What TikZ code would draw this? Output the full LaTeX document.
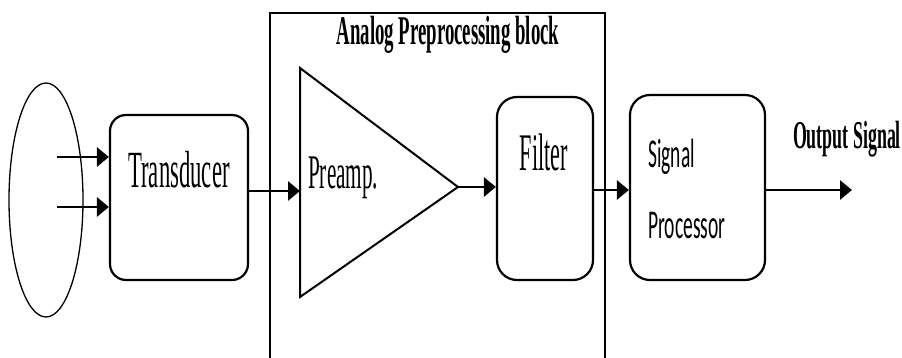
\documentclass[tikz,border=0pt]{standalone}
\usepackage{fontspec}
\usepackage{graphicx}
\usetikzlibrary{shapes.geometric,arrows.meta}
\newfontfamily\tmsfont{Liberation Serif}
\newfontfamily\calfont{Carlito}
% tall, narrow lettering
\newcommand\tallText[3]{\fontsize{#1}{#1}\selectfont\scalebox{1}[#2]{#3}}
\begin{document}
\begin{tikzpicture}[x=1pt,y=-1pt,
  block/.style={draw, line width=2.2pt, rounded corners=16pt, inner sep=0pt},
  arr/.style={line width=2.8pt, -{Triangle[length=12pt,width=19pt]}},
  lbl/.style={inner sep=0pt, anchor=base}]
\useasboundingbox (0,0) rectangle (902,358);

% source
\node[ellipse, draw, line width=1.3pt, minimum width=74pt, minimum height=234pt] (src) at (46,200) {};

% analog preprocessing frame
\draw[line width=1.4pt] (270,360) -- (270,13);
\draw[line width=1.4pt] (605,13) -- (605,360);
\draw[line width=2.8pt] (269,13) -- (606,13);
\node[lbl] (title) at (448,45) {\tmsfont\bfseries\tallText{18.8}{2.17}{Analog Preprocessing block}};

% blocks
\node[block, minimum width=138pt, minimum height=165pt] (trans) at (179,197.5) {};
\node[lbl] (translbl) at (179,188) {\tmsfont\tallText{22.7}{2.3}{Transducer}};

\coordinate (triA) at (300,68);
\coordinate (triB) at (300,297);
\coordinate (triC) at (458,187);
\draw[line width=2pt, line join=miter] (triA) -- (triC) -- (triB) -- cycle;
\node[lbl, anchor=base west] (amplbl) at (308,189) {\tmsfont\tallText{21.2}{2.28}{Preamp.}};

\node[block, rounded corners=20pt, minimum width=96pt, minimum height=183pt] (filt) at (545,188.5) {};
\node[lbl] (filtlbl) at (544,171) {\tmsfont\tallText{22.2}{2.38}{Filter}};

\node[block, rounded corners=20pt, minimum width=135pt, minimum height=185pt] (sp) at (697.5,187.5) {};
\node[lbl, anchor=base west] (splbl1) at (648,168) {\calfont\tallText{19.5}{2.1}{Signal}};
\node[lbl, anchor=base west] (splbl2) at (648,238) {\calfont\tallText{19.5}{2.1}{Processor}};

\node[lbl] (outlbl) at (847,149) {\tmsfont\bfseries\tallText{17.9}{2.2}{Output Signal}};

% connectors
\coordinate (in1) at (57,157);
\coordinate (in2) at (57,207);
\coordinate (ampin) at (300,191);
\coordinate (spin) at (630,190);
\coordinate (out) at (852,190);
\draw[arr] (in1) -- (trans.west |- in1);
\draw[arr] (in2) -- (trans.west |- in2);
\draw[arr] (trans.east |- ampin) -- (ampin);
\draw[arr] (triC) -- (filt.west |- triC);
\draw[arr] (filt.east |- spin) -- (sp.west |- spin);
\draw[arr] (sp.east |- out) -- (out);
\end{tikzpicture}
\end{document}
